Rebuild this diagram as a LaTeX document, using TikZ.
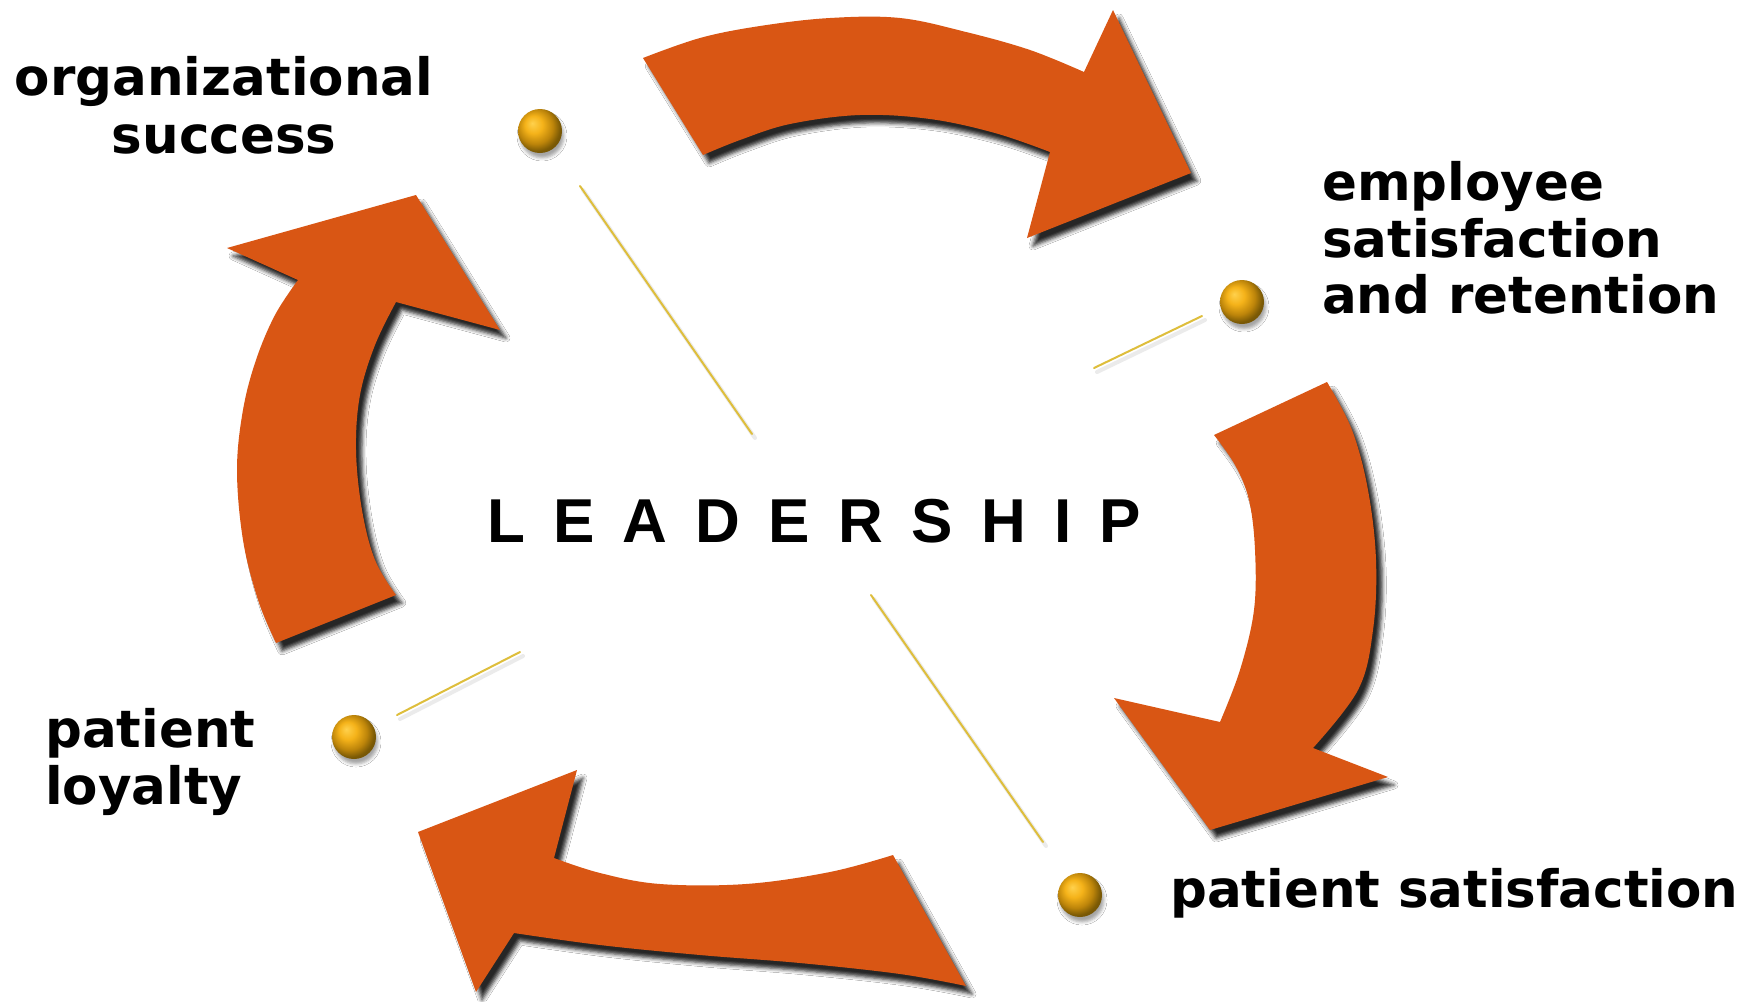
\documentclass[tikz,border=0pt]{standalone}
\usepackage{fontspec}
\setmainfont{DejaVu Sans}
\newfontfamily\leadfont{Liberation Sans}
\usetikzlibrary{shadows.blur}
\definecolor{arroworange}{RGB}{217,86,20}
\definecolor{goldline}{RGB}{222,190,60}
\pgfdeclareradialshading{goldball}{\pgfpoint{-9bp}{9bp}}{%
  rgb(0bp)=(1,0.82,0.30);
  rgb(10bp)=(0.96,0.70,0.10);
  rgb(20bp)=(0.74,0.52,0.04);
  rgb(27bp)=(0.48,0.35,0.02);
  rgb(50bp)=(0.35,0.25,0.0)}
\tikzset{
  bigarrow/.style={fill=arroworange,
    blur shadow={shadow xshift=6bp, shadow yshift=-8bp, shadow opacity=85, shadow blur radius=4bp}},
  golddotstyle/.style={circle, minimum size=44bp, inner sep=0pt, shading=goldball,
    blur shadow={shadow xshift=2bp, shadow yshift=-5bp, shadow opacity=35, shadow blur radius=3bp}},
  goldstroke/.style={draw=goldline, line width=2bp, line cap=round},
  goldhalo/.style={draw=black!25, line width=4bp, opacity=0.3, line cap=round},
  lbl/.style={inner sep=0pt, font=\bfseries\fontsize{51.5bp}{57bp}\selectfont},
  leadlbl/.style={inner sep=0pt, anchor=base west, font=\leadfont\bfseries\fontsize{62bp}{66bp}\selectfont}
}
\begin{document}
\begin{tikzpicture}[x=1bp, y=-1bp]
\useasboundingbox (0,0) rectangle (1757,1001);
\fill[white] (0,0) rectangle (1757,1001);

% top arrow
\path[bigarrow] plot[smooth, tension=0.6] coordinates {(643,58) (700,38) (760,26) (830,18) (900,18) (966,32) (1030,50) (1084,72)}
  -- (1113,10) -- (1191,173) -- (1027,238) -- (1050,152)
  -- plot[smooth, tension=0.6] coordinates {(1050,152) (995,133) (930,119) (860,115) (790,124) (740,140) (703,155)} -- cycle;

% right arrow
\path[bigarrow] plot[smooth, tension=0.6] coordinates {(1327,382) (1352,430) (1368,490) (1376,560) (1373,630) (1358,690) (1313,748)}
  -- (1388,777) -- (1210,830) -- (1114,698) -- (1220,722)
  -- plot[smooth, tension=0.6] coordinates {(1220,722) (1240,670) (1254,610) (1255,550) (1249,500) (1235,465) (1214,435)} -- cycle;

% bottom arrow
\path[bigarrow] plot[smooth, tension=0.6] coordinates {(966,986) (900,974) (800,963) (700,955) (600,945) (514,933)}
  -- (476,992) -- (418,832) -- (577,770) -- (554,858)
  -- plot[smooth, tension=0.6] coordinates {(554,858) (600,873) (660,884) (746,884) (830,872) (893,855)} -- cycle;

% left arrow
\path[bigarrow] plot[smooth, tension=0.6] coordinates {(276,643) (258,600) (243,540) (237,470) (243,410) (256,360) (275,315) (298,280)}
  -- (227,248) -- (416,195) -- (500,330) -- (396,302)
  -- plot[smooth, tension=0.6] coordinates {(396,302) (375,345) (360,395) (356,450) (362,510) (375,560) (396,595)} -- cycle;

% thin gold lines
\coordinate (l1a) at (580,186); \coordinate (l1b) at (752,434);
\coordinate (l2a) at (1094,368); \coordinate (l2b) at (1202,316);
\coordinate (l3a) at (397,715); \coordinate (l3b) at (520,652);
\coordinate (l4a) at (871,595); \coordinate (l4b) at (1043,842);
\foreach \a/\b in {l1a/l1b, l2a/l2b, l3a/l3b, l4a/l4b}{
  \draw[goldhalo] ([shift={(3,4)}]\a) -- ([shift={(3,4)}]\b);
  \draw[goldstroke] (\a) -- (\b);
}

% gold dots
\node[golddotstyle] (d1) at (540,131) {};
\node[golddotstyle] (d2) at (1242,302) {};
\node[golddotstyle] (d3) at (354,737) {};
\node[golddotstyle] (d4) at (1080,895) {};

% labels
\node[lbl, anchor=base] (org1) at (224,95) {organizational};
\node[lbl, anchor=base] (org2) at (224,153) {success};
\node[lbl, anchor=base west] (emp1) at (1322,200) {employee};
\node[lbl, anchor=base west] (emp2) at (1322,257) {satisfaction};
\node[lbl, anchor=base west] (emp3) at (1322,313) {and retention};
\node[lbl, anchor=base west] (pl1) at (45,747) {patient};
\node[lbl, anchor=base west] (pl2) at (45,804) {loyalty};
\node[lbl, anchor=base west] (ps) at (1170,907) {patient satisfaction};

\node[leadlbl] (lead) at (487,542) {\makebox[654bp][s]{L\hfill E\hfill A\hfill D\hfill E\hfill R\hfill S\hfill H\hfill I\hfill P}};
\end{tikzpicture}
\end{document}
